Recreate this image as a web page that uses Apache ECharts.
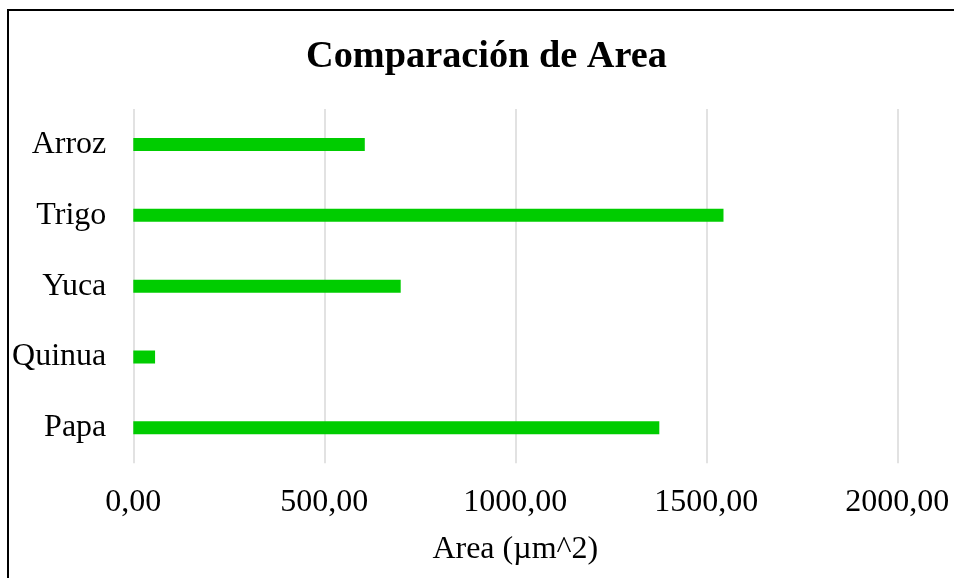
<!DOCTYPE html>
<html>
<head>
<meta charset="utf-8">
<script src="https://cdn.jsdelivr.net/npm/echarts@6/dist/echarts.min.js"></script>
<style>
html,body{margin:0;padding:0;background:#fff;}
#c{width:954px;height:578px;}
</style>
</head>
<body>
<div id="c"></div>
<script>
const categories = ['Papa', 'Quinua', 'Yuca', 'Trigo', 'Arroz'];
const areaValues = [1377, 57, 700, 1545, 606];
const xTicks = [0, 500, 1000, 1500, 2000];

const FONT = '"Liberation Serif", "Times New Roman", serif';
const chart = echarts.init(document.getElementById('c'));
chart.setOption({
  backgroundColor: '#fff',
  animation: false,
  title: {
    text: 'Comparación de Area',
    left: 301,
    top: 33,
    textStyle: { fontFamily: FONT, fontSize: 38.3, fontWeight: 'bold', color: '#000' }
  },
  graphic: [{
    type: 'rect',
    shape: { x: 8, y: 10, width: 3000, height: 3000 },
    style: { fill: 'none', stroke: '#000', lineWidth: 2 },
    z: 100
  }],
  grid: { left: 133.3, right: 56.7, top: 109, bottom: 114.7 },
  xAxis: {
    type: 'value',
    min: xTicks[0],
    max: xTicks[xTicks.length - 1],
    interval: xTicks[1] - xTicks[0],
    name: 'Area (µm^2)',
    nameLocation: 'middle',
    nameGap: 70,
    nameTextStyle: { fontFamily: FONT, fontSize: 32, color: '#000' },
    axisLine: { show: false },
    axisTick: { show: false },
    axisLabel: {
      fontFamily: FONT, fontSize: 32, color: '#000', margin: 23,
      formatter: v => v.toFixed(2).replace('.', ',')
    },
    splitLine: { show: true, lineStyle: { color: '#d9d9d9', width: 1.5 } }
  },
  yAxis: {
    type: 'category',
    data: categories,
    axisLine: { show: false },
    axisTick: { show: false },
    axisLabel: { fontFamily: FONT, fontSize: 32, color: '#000', margin: 27 }
  },
  series: [{
    type: 'bar',
    data: areaValues,
    barWidth: 13,
    itemStyle: { color: '#00cc00' }
  }]
});
</script>
</body>
</html>
